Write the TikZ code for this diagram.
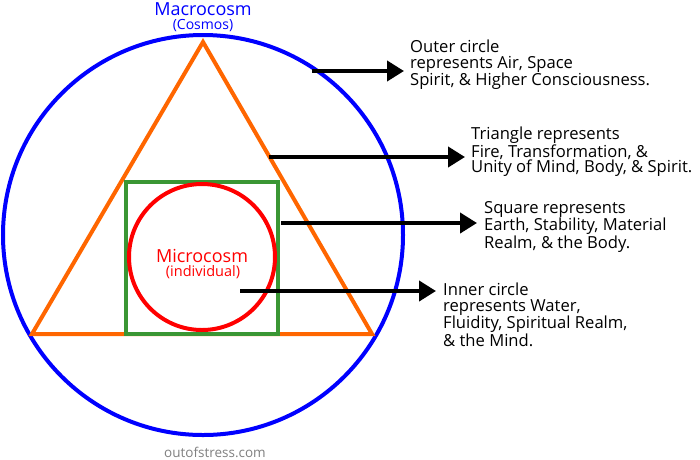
\documentclass[tikz,border=0pt]{standalone}
\usepackage{fontspec}
\setmainfont{Open Sans}
\usetikzlibrary{arrows.meta}
\definecolor{cblue}{RGB}{0,0,255}
\definecolor{corange}{RGB}{255,102,0}
\definecolor{cgreen}{RGB}{58,150,52}
\definecolor{cred}{RGB}{255,0,0}
\definecolor{cgrey}{RGB}{128,128,128}
\tikzset{
  shape line/.style={line width=4pt},
  pointer/.style={line width=4pt, -{Triangle[length=17pt,width=20pt]}},
  note/.style={anchor=north west, inner sep=0pt, align=left, font=\fontsize{16.6}{15.3}\selectfont},
}
\begin{document}
\begin{tikzpicture}[x=1pt,y=-1pt]
\useasboundingbox (0,0) rectangle (700,459);
% shapes
\node[shape line, draw=cblue, circle, minimum size=400pt, inner sep=0pt] (outer) at (203,235) {};
\draw[shape line, draw=corange, line join=miter] (203,42) coordinate (apex) -- (32,334) coordinate (bl) -- (372,334) coordinate (br) -- cycle;
\draw[shape line, draw=cgreen] (126,182) rectangle (278,334);
\node[shape line, draw=cred, circle, minimum size=146pt, inner sep=0pt] (inner) at (202,257) {};
% titles
\node[text=cblue, font=\fontsize{18}{18}\selectfont, inner sep=0pt] (macro) at (203,9) {Macrocosm};
\node[text=cblue, font=\fontsize{14}{14}\selectfont, inner sep=0pt] (cosmos) at (203,26) {(Cosmos)};
\node[text=cred, font=\fontsize{18}{18}\selectfont, inner sep=0pt] (micro) at (202,255.5) {Microcosm};
\node[text=cred, font=\fontsize{14.5}{14}\selectfont, inner sep=0pt] (indiv) at (203,272) {(individual)};
\node[text=cgrey, font=\fontsize{13.5}{14}\selectfont, inner sep=0pt] (site) at (215,452) {outofstress.com};
% notes
\node[note] (n1) at (410,40) {Outer circle\\represents Air, Space\\Spirit, \& Higher Consciousness.};
\node[note] (n2) at (471,127) {Triangle represents\\Fire, Transformation, \&\\Unity of Mind, Body, \& Spirit.};
\node[note] (n3) at (484,201) {Square represents\\Earth, Stability, Material\\Realm, \& the Body.};
\node[note] (n4) at (443,283) {Inner circle\\represents Water,\\Fluidity, Spiritual Realm,\\\& the Mind.};
% arrow ends
\coordinate (s1) at (312,71);  \coordinate (e1) at (404,71);
\coordinate (s2) at (269,157); \coordinate (e2) at (465,157);
\coordinate (s3) at (281,223); \coordinate (e3) at (477,223);
\coordinate (s4) at (240,291); \coordinate (e4) at (436,291);
\draw[pointer] (s1) -- (e1);
\draw[pointer] (s2) -- (e2);
\draw[pointer] (s3) -- (e3);
\draw[pointer] (s4) -- (e4);
\end{tikzpicture}
\end{document}
